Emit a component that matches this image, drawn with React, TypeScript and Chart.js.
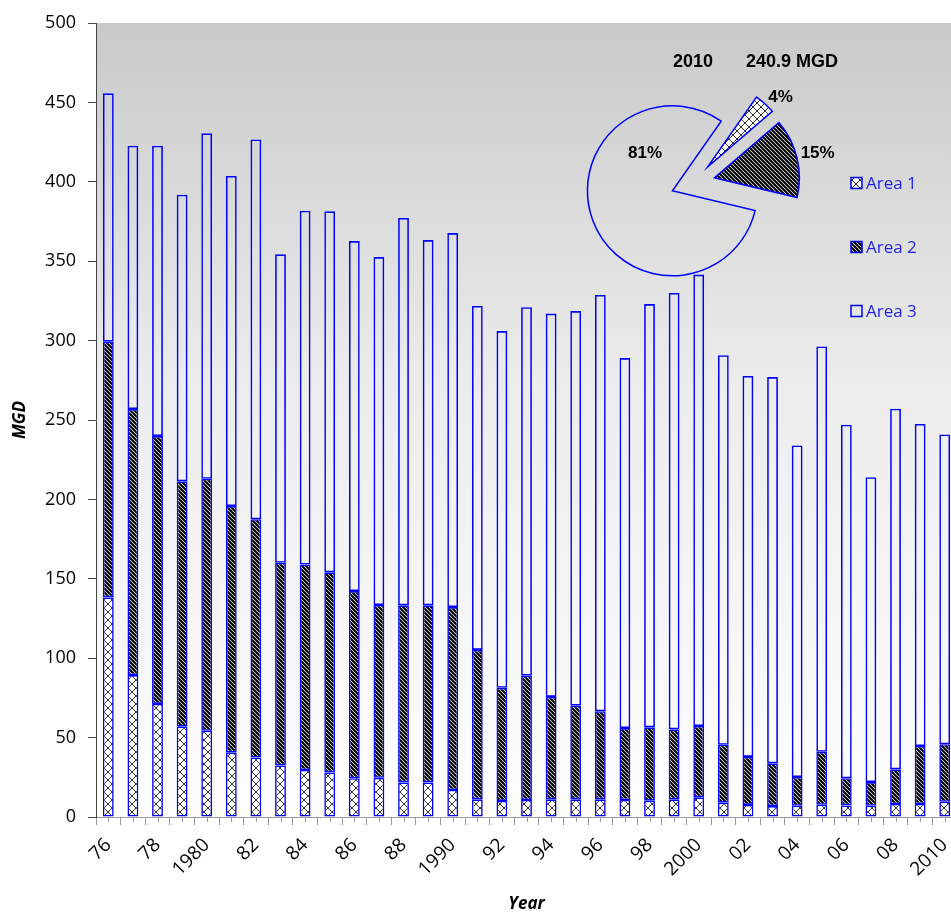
import React, { useEffect, useRef } from 'react';
import { Chart, registerables } from 'chart.js';
Chart.register(...registerables);

// ---------- data ----------
const years = [
  1976, 1977, 1978, 1979, 1980, 1981, 1982, 1983, 1984, 1985,
  1986, 1987, 1988, 1989, 1990, 1991, 1992, 1993, 1994, 1995,
  1996, 1997, 1998, 1999, 2000, 2001, 2002, 2003, 2004, 2005,
  2006, 2007, 2008, 2009, 2010,
];
const tickLabels = ['76', '78', '1980', '82', '84', '86', '88', '1990', '92', '94', '96', '98', '2000', '02', '04', '06', '08', '2010'];
const seriesNames = ['Area 1', 'Area 2', 'Area 3'];
const area1 = [
  138.3, 89.4, 71.2, 56.9, 54.3, 40.7, 37.4, 32.5, 29.6, 28.1,
  24.4, 24.7, 21.8, 21.8, 17.0, 11.1, 10.1, 10.7, 11.1, 11.1,
  11.1, 10.7, 10.3, 11.1, 12.4, 9.0, 7.6, 6.9, 7.1, 7.7,
  7.3, 7.1, 8.2, 8.2, 9.6,
];
const area2 = [
  161.0, 167.5, 168.7, 154.5, 158.7, 155.1, 150.1, 127.6, 129.4, 126.0,
  117.9, 108.8, 111.5, 111.5, 115.2, 94.1, 71.3, 78.3, 64.5, 59.0,
  55.5, 45.3, 46.2, 44.1, 44.9, 36.5, 30.2, 26.9, 18.1, 33.4,
  17.1, 14.9, 21.8, 36.5, 36.2,
];
const area3 = [
  156.4, 165.8, 182.8, 180.5, 217.5, 207.9, 239.2, 194.2, 222.8, 227.3,
  220.4, 219.1, 243.9, 230.0, 235.5, 216.6, 224.6, 232.0, 241.4, 248.5,
  262.1, 233.0, 266.5, 274.8, 284.3, 245.3, 239.9, 243.2, 208.8, 255.2,
  222.6, 192.0, 227.1, 202.8, 195.1,
];
const yAxisTitle = 'MGD';
const xAxisTitle = 'Year';

// ---------- styles ----------
const BLUE = '#0000ff';
const AXIS_FONT = "'Open Sans', 'Noto Sans', sans-serif";
const PIE_FONT = "'Liberation Sans', Arial, sans-serif";

function crossPattern(ctx: CanvasRenderingContext2D) {
  const s = 8;
  const c = document.createElement('canvas');
  c.width = s; c.height = s;
  const g = c.getContext('2d')!;
  g.fillStyle = '#ffffff';
  g.fillRect(0, 0, s, s);
  g.strokeStyle = '#333333';
  g.lineWidth = 1;
  g.beginPath();
  g.moveTo(0, 0); g.lineTo(s, s);
  g.moveTo(s, 0); g.lineTo(0, s);
  g.stroke();
  return ctx.createPattern(c, 'repeat')!;
}

function stripePattern(ctx: CanvasRenderingContext2D) {
  const s = 4;
  const c = document.createElement('canvas');
  c.width = s; c.height = s;
  const g = c.getContext('2d')!;
  g.fillStyle = '#ffffff';
  g.fillRect(0, 0, s, s);
  g.strokeStyle = '#000000';
  g.lineWidth = 2.1;
  g.beginPath();
  for (let k = -1; k <= 1; k++) {
    g.moveTo(-1, k * s - 1);
    g.lineTo(s + 1, s + k * s + 1);
  }
  g.stroke();
  return ctx.createPattern(c, 'repeat')!;
}

const bgPlugin = {
  id: 'bgGradient',
  beforeDraw(chart: any) {
    const { ctx, chartArea: a } = chart;
    const grad = ctx.createLinearGradient(0, a.top, 0, a.bottom);
    grad.addColorStop(0, '#c9c9c9');
    grad.addColorStop(0.45, '#ececec');
    grad.addColorStop(1, '#fefefe');
    ctx.save();
    ctx.fillStyle = grad;
    ctx.fillRect(a.left, a.top, a.right - a.left, a.bottom - a.top);
    ctx.restore();
  },
};

const minorTickPlugin = {
  id: 'minorTicks',
  afterDraw(chart: any) {
    const xs = chart.scales.x;
    const ctx = chart.ctx;
    ctx.save();
    ctx.strokeStyle = '#9a9a9a';
    ctx.lineWidth = 1;
    for (let i = 0; i < chart.data.labels.length; i++) {
      const px = Math.round(xs.getPixelForValue(i)) + 0.5;
      ctx.beginPath();
      ctx.moveTo(px, xs.top);
      ctx.lineTo(px, xs.top + 5);
      ctx.stroke();
    }
    ctx.restore();
  },
};

const legendPlugin = {
  id: 'sideLegend',
  afterDraw(chart: any, _args: any, opts: any) {
    const ctx = chart.ctx;
    ctx.save();
    chart.data.datasets.forEach((ds: any, i: number) => {
      const y = opts.y0 + i * opts.dy;
      const b = opts.box;
      ctx.fillStyle = ds.backgroundColor;
      ctx.fillRect(opts.x, y - b / 2, b, b);
      ctx.strokeStyle = BLUE;
      ctx.lineWidth = 1.5;
      ctx.strokeRect(opts.x, y - b / 2, b, b);
      ctx.fillStyle = opts.color;
      ctx.font = `17px ${AXIS_FONT}`;
      ctx.textAlign = 'left';
      ctx.textBaseline = 'middle';
      ctx.fillText(ds.label, opts.x + b + 4, y + 1);
    });
    ctx.restore();
  },
};

// shifts every slice outward along its mid-angle (exploded pie)
const explodePlugin = {
  id: 'explode',
  afterUpdate(chart: any, _args: any, opts: any) {
    const meta = chart.getDatasetMeta(0);
    meta.data.forEach((arc: any, i: number) => {
      const mid = (arc.startAngle + arc.endAngle) / 2;
      const e = opts.amount[i] || 0;
      arc.x += Math.cos(mid) * e;
      arc.y += Math.sin(mid) * e;
    });
  },
};

const pieLabelPlugin = {
  id: 'pieLabels',
  afterDraw(chart: any, _args: any, opts: any) {
    const ctx = chart.ctx;
    const meta = chart.getDatasetMeta(0);
    const values: number[] = chart.data.datasets[0].data;
    const total = values.reduce((a, b) => a + b, 0);
    ctx.save();
    ctx.fillStyle = '#000';
    ctx.font = `bold 17px ${PIE_FONT}`;
    ctx.textAlign = 'center';
    ctx.textBaseline = 'middle';
    meta.data.forEach((arc: any, i: number) => {
      const mid = (arc.startAngle + arc.endAngle) / 2;
      const place = opts.placement[i];
      const ang = mid + (place.dAngle * Math.PI) / 180;
      const r = arc.outerRadius * place.f;
      const pct = Math.round((values[i] / total) * 100) + '%';
      ctx.fillText(pct, arc.x + Math.cos(ang) * r, arc.y + Math.sin(ang) * r);
    });
    const a = chart.chartArea;
    const cx = (a.left + a.right) / 2;
    const cy = (a.top + a.bottom) / 2;
    ctx.font = `bold 18px ${PIE_FONT}`;
    ctx.fillText(opts.year, cx, cy - 121);
    ctx.fillText(total.toFixed(1) + ' MGD', cx + 99, cy - 121);
    ctx.restore();
  },
};

export default function App() {
  const barRef = useRef<HTMLCanvasElement>(null);
  const pieRef = useRef<HTMLCanvasElement>(null);

  useEffect(() => {
    const bctx = barRef.current!.getContext('2d')!;
    const pctx = pieRef.current!.getContext('2d')!;
    const fills = [crossPattern(bctx), stripePattern(bctx), 'rgba(0,0,0,0)'];
    const pieFills = [crossPattern(pctx), stripePattern(pctx), 'rgba(0,0,0,0)'];
    const series = [area1, area2, area3];
    const last = years.length - 1;

    const bar = new Chart(bctx, {
      type: 'bar',
      data: {
        labels: years.map(String),
        datasets: series.map((d, i) => ({
          label: seriesNames[i],
          data: d,
          backgroundColor: fills[i] as any,
          borderColor: BLUE,
          borderWidth: 1.6,
          borderSkipped: false,
          barPercentage: 0.44,
          categoryPercentage: 1,
        })),
      },
      options: {
        responsive: false,
        animation: false,
        events: [],
        devicePixelRatio: 1,
        layout: { padding: { top: 23, right: 10.5, left: 0, bottom: 0 } },
        plugins: {
          legend: { display: false },
          tooltip: { enabled: false },
          sideLegend: { x: 851, y0: 183, dy: 64, box: 11, color: '#2323e6' },
        } as any,
        scales: {
          x: {
            stacked: true,
            offset: true,
            grid: { display: true, drawOnChartArea: false, offset: true, tickLength: 8, color: '#9a9a9a' },
            border: { display: true, color: '#9a9a9a' },
            ticks: {
              autoSkip: false,
              maxRotation: 45,
              minRotation: 45,
              padding: 9,
              color: '#000',
              font: { family: AXIS_FONT, size: 19 },
              callback: (_v: any, i: number) => (i % 2 === 0 ? tickLabels[i / 2] : ''),
            },
            title: {
              display: true,
              text: xAxisTitle,
              color: '#000',
              font: { family: AXIS_FONT, size: 17, weight: 'bold', style: 'italic' },
              padding: { top: 0, bottom: 0 },
            },
            afterFit: (s: any) => { s.height = 97; },
          },
          y: {
            stacked: true,
            min: 0,
            max: 500,
            ticks: { stepSize: 50, padding: 12, color: '#000', font: { family: AXIS_FONT, size: 18 } },
            grid: { drawOnChartArea: false, tickLength: 8, color: '#444' },
            border: { display: true, color: '#444' },
            title: {
              display: true,
              text: yAxisTitle,
              color: '#000',
              font: { family: AXIS_FONT, size: 17, weight: 'bold', style: 'italic' },
              padding: { top: 10, bottom: 0 },
            },
            afterFit: (s: any) => { s.width = 96; },
          },
        },
      } as any,
      plugins: [bgPlugin, minorTickPlugin, legendPlugin],
    });

    const pie = new Chart(pctx, {
      type: 'pie',
      data: {
        labels: seriesNames,
        datasets: [{
          data: series.map((d) => d[last]),
          backgroundColor: pieFills as any,
          borderColor: BLUE,
          borderWidth: 1.5,
          borderJoinStyle: 'miter',
        } as any],
      },
      options: {
        responsive: false,
        animation: false,
        events: [],
        devicePixelRatio: 1,
        rotation: 35,
        radius: 85,
        layout: { padding: 0 },
        plugins: {
          legend: { display: false },
          tooltip: { enabled: false },
          explode: { amount: [22, 22, 22] },
          pieLabels: {
            year: String(years[last]),
            placement: [
              { f: 1.18, dAngle: 4.4 },
              { f: 1.25, dAngle: 0 },
              { f: 0.55, dAngle: 75 },
            ],
          },
        } as any,
      } as any,
      plugins: [explodePlugin, pieLabelPlugin],
    });

    return () => {
      bar.destroy();
      pie.destroy();
    };
  }, []);

  return (
    <div style={{ position: 'fixed', left: 0, top: 0, width: 951, height: 914, overflow: 'hidden', background: '#fff' }}>
      <canvas ref={barRef} width={970} height={914} style={{ position: 'absolute', left: 0, top: 0, width: 970, height: 914 }} />
      <canvas ref={pieRef} width={400} height={320} style={{ position: 'absolute', left: 493, top: 23, width: 400, height: 320 }} />
    </div>
  );
}
